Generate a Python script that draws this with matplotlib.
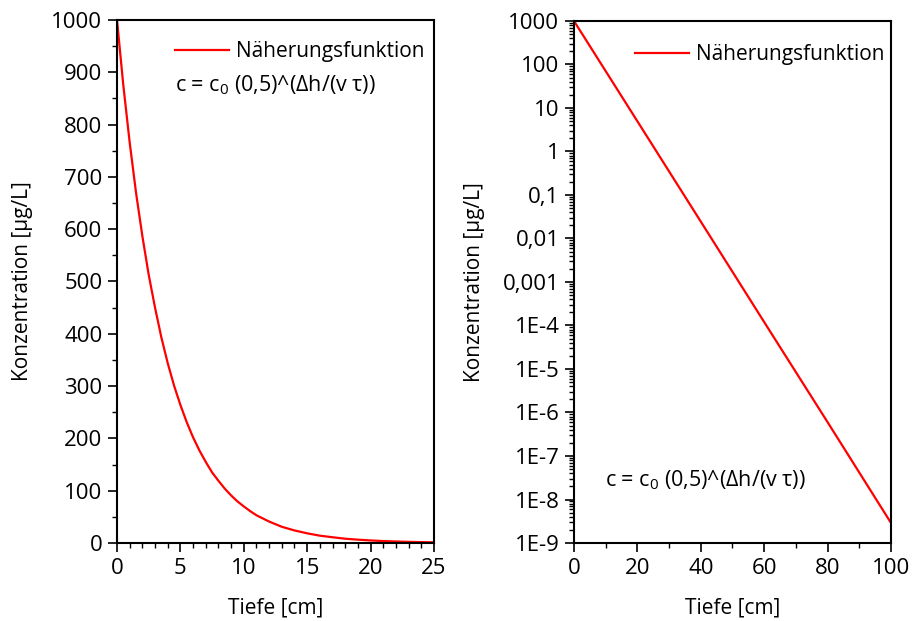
import numpy as np
import matplotlib
matplotlib.use("Agg")
import matplotlib.pyplot as plt
from matplotlib.ticker import MultipleLocator, FixedLocator, LogLocator, NullFormatter

plt.rcParams['font.family'] = ['Open Sans', 'DejaVu Sans']
plt.rcParams['mathtext.fontset'] = 'custom'
plt.rcParams['mathtext.rm'] = 'Open Sans'
plt.rcParams['mathtext.default'] = 'regular'

# values
tiefe_lin = [0, 0.5, 1, 1.5, 2, 2.5, 3, 3.5, 4, 4.5, 5, 5.5, 6, 6.5, 7, 7.5, 8, 8.5, 9, 9.5,
             10, 10.5, 11, 11.5, 12, 13, 14, 15, 16, 17, 18, 19, 20, 21, 22, 23, 24, 25]
konz_lin = [1000, 875, 766, 670, 587, 513, 450, 393, 344, 301, 264, 231, 202, 177, 155, 135, 119, 104, 91, 79.5,
            70, 61, 53, 47, 41, 31, 24, 18.5, 14, 11, 8.2, 6.4, 4.9, 3.7, 2.9, 2.2, 1.7, 1.3]

tiefe_log = [0, 20, 40, 60, 80, 100]
konz_log = [1000, 4.95, 0.0245, 1.2e-4, 6.0e-7, 2.9e-9]

log_ticks = [1e3, 1e2, 1e1, 1, 0.1, 0.01, 0.001, 1e-4, 1e-5, 1e-6, 1e-7, 1e-8, 1e-9]
log_labels = ['1000', '100', '10', '1', '0,1', '0,01', '0,001', '1E-4', '1E-5', '1E-6', '1E-7', '1E-8', '1E-9']

legend_text = 'Näherungsfunktion'
formel = 'c = c$_0$ (0,5)^(Δh/(v τ))'

fs = 15
fig = plt.figure(figsize=(9.14, 6.21), dpi=100)
ax1 = fig.add_axes([0.128, 0.1256, 0.3468, 0.8422])
ax2 = fig.add_axes([0.628, 0.1256, 0.3468, 0.8406])

for ax in (ax1, ax2):
    for s in ax.spines.values():
        s.set_linewidth(1.5)
    ax.tick_params(which='major', direction='out', length=6.5, width=1.2, labelsize=16,
                   pad=4, top=False, right=False)
    ax.tick_params(which='minor', direction='out', length=3.5, width=1.0, top=False, right=False)
    ax.set_xlabel('Tiefe [cm]', fontsize=fs)
    ax.set_ylabel('Konzentration [µg/L]', fontsize=fs)
    ax.xaxis.set_label_coords(0.5, -0.105)
    ax.xaxis.label.set_va('top')

ax1.yaxis.set_label_coords(-0.265, 0.5)
ax2.yaxis.set_label_coords(-0.281, 0.5)

# left: linear
ax1.plot(tiefe_lin, konz_lin, color='#ff0000', lw=1.6, label=legend_text)
ax1.set_xlim(0, 25)
ax1.set_ylim(0, 1000)
ax1.xaxis.set_major_locator(MultipleLocator(5))
ax1.xaxis.set_minor_locator(MultipleLocator(1))
ax1.yaxis.set_major_locator(MultipleLocator(100))
ax1.yaxis.set_minor_locator(MultipleLocator(50))
ax1.legend(loc='center left', bbox_to_anchor=(0.183, 0.939), frameon=False, fontsize=fs,
           handlelength=2.6, handletextpad=0.34, borderpad=0, borderaxespad=0)
ax1.text(0.183, 0.876, formel, transform=ax1.transAxes, fontsize=15.5, va='center', ha='left')

# right: log
ax2.plot(tiefe_log, konz_log, color='#ff0000', lw=1.6, label=legend_text)
ax2.set_yscale('log')
ax2.set_xlim(0, 100)
ax2.set_ylim(1e-9, 1e3)
ax2.xaxis.set_major_locator(MultipleLocator(20))
ax2.xaxis.set_minor_locator(MultipleLocator(10))
ax2.yaxis.set_major_locator(FixedLocator(log_ticks))
ax2.set_yticklabels(log_labels)
ax2.yaxis.set_minor_locator(LogLocator(base=10, subs=np.arange(2, 10), numticks=100))
ax2.yaxis.set_minor_formatter(NullFormatter())
ax2.legend(loc='center left', bbox_to_anchor=(0.192, 0.935), frameon=False, fontsize=fs,
           handlelength=2.6, handletextpad=0.34, borderpad=0, borderaxespad=0)
ax2.text(0.098, 0.121, formel, transform=ax2.transAxes, fontsize=15.5, va='center', ha='left')

fig.savefig('out.png', dpi=100)
